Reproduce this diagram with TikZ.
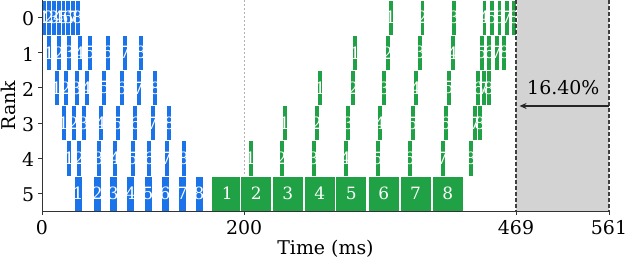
\documentclass[tikz,border=0pt]{standalone}
\usepackage{fontspec}
\setmainfont{DejaVu Serif}
\usepackage{xcolor}
\usepackage{tikz}
\usetikzlibrary{arrows.meta,positioning}

\definecolor{fwdblue}{RGB}{26,115,232}
\definecolor{bwdgreen}{RGB}{33,161,69}
\definecolor{idlegray}{RGB}{211,211,211}
\definecolor{spinegray}{RGB}{51,51,51}

% rank / block width (ms) / block start times (ms)
\newcommand{\fwdrows}{0/4.7/{0,4.7,9.4,14.1,18.8,23.5,28.2,32.9},
  1/4.9/{4.65,14.5,24.4,34.9,44.8,62.3,79.8,95.3},
  2/4.9/{11.9,21.1,31.7,41.9,59.1,76.2,93.0,109.5},
  3/4.9/{18.8,28.7,38.6,55.7,72.2,89.7,106.9,123.4},
  4/4.9/{24.4,34.3,53.4,70.0,87.1,103.6,120.7,137.5},
  5/7.9/{31.7,50.8,66.6,83.8,100.9,117.7,134.9,151.4}}
\newcommand{\bwdrows}{5/30.6/{167.9,196.6,227.9,259.5,290.6,322.8,354.2,386.2},
  4/5/{203.8,234.5,266.2,297.8,329.5,361.1,393.8,421.8},
  3/5/{237.5,269.4,300.5,332.1,364.1,396.7,425.7,430.7},
  2/5/{272.8,305.4,336.1,367.4,399.7,429.1,434.3,439.6},
  1/5/{307.4,339.4,371.3,403.7,432.4,440.0,447.2,454.8},
  0/4.6/{342.6,374.0,405.4,435.3,442.7,450.2,457.6,464.4}}

\begin{document}
\begin{tikzpicture}[x=1.0107bp, y=-35.17bp,
  fwd/.style={fill=fwdblue, draw=white, line width=0.7bp},
  bwd/.style={fill=bwdgreen, draw=white, line width=0.7bp},
  num/.style={text=white, inner sep=0pt, font=\fontsize{17}{17}\selectfont},
  lbl/.style={inner sep=0pt, font=\fontsize{19}{19}\selectfont},
  spine/.style={draw=spinegray, line width=0.9bp},
  marker/.style={draw=black!75, line width=1.2bp, dash pattern=on 4bp off 2bp},
  arr/.style={-{Stealth[length=7bp, width=6bp]}, line width=2bp, draw=black!85}
]
  \useasboundingbox (-41.56,-0.5) rectangle (579.8,6.92);
  \fill[idlegray] (469,-0.5) rectangle (561,5.5);
  \draw[black!30, line width=0.7bp, dash pattern=on 2.5bp off 1.5bp] (200,-0.5) -- (200,5.5);

  \foreach \r/\w/\xs in \fwdrows
    \foreach \x in \xs
      \draw[fwd] (\x,\r-0.5) rectangle ++(\w,1);
  \foreach \r/\w/\xs in \bwdrows
    \foreach \x in \xs
      \draw[bwd] (\x,\r-0.5) rectangle ++(\w,1);
  \foreach \r/\w/\xs in \fwdrows
    \foreach \x [count=\k] in \xs
      \node[num] (f\r-\k) at (\x+\w/2,\r) {\k};
  \foreach \r/\w/\xs in \bwdrows
    \foreach \x [count=\k] in \xs
      \node[num] (b\r-\k) at (\x+\w/2,\r) {\k};

  \draw[marker] (469,-0.5) -- (469,5.5);
  \draw[marker] (561,-0.5) -- (561,5.5);

  \draw[spine] (0,-0.5) -- (0,5.5) -- (561,5.5);
  \foreach \t in {0,200,469,561} {
    \draw[spine] (\t,5.5) -- ++(0,-4bp);
    \node[lbl, anchor=base] (xt\t) at ([yshift=-23.3bp]\t,5.5) {\t};
  }
  \foreach \r in {0,...,5} {
    \draw[spine] (0,\r) -- ++(-4bp,0);
    \node[lbl, anchor=east] (yt\r) at ([xshift=-7.7bp, yshift=-1.5bp]0,\r) {\r};
  }
  \node[lbl, anchor=base] (xlab) at ([yshift=-43bp]280.5,5.5) {Time (ms)};
  \node[lbl, rotate=90] (ylab) at (-33.1,2.5) {Rank};

  \coordinate (gapR) at (561,2.513);
  \coordinate (gapL) at (472.5,2.513);
  \draw[arr] (gapR) -- (gapL);
  \node[lbl] (gaplbl) at (515.8,1.98) {16.40\%};
\end{tikzpicture}
\end{document}
